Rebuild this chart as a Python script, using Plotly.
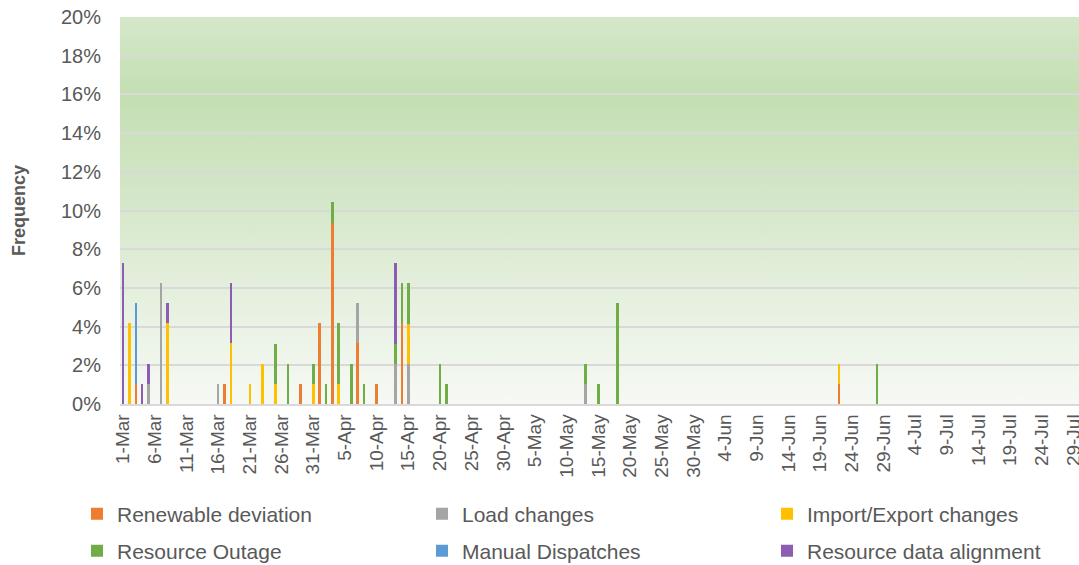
import base64

import pandas as pd
import plotly.graph_objects as go

# category axis: every day 1-Mar .. 31-Jul
days = pd.date_range("2021-03-01", "2021-07-31", freq="D")
categories = [f"{d.day}-{d.strftime('%b')}" for d in days]
tick_labels = categories[::5]

# frequency (%) by day, one pair of lists per cause
renewable_dates = ["3-Mar", "17-Mar", "29-Mar", "1-Apr", "3-Apr", "7-Apr", "10-Apr", "14-Apr", "22-Jun"]
renewable_vals = [1.04, 1.04, 1.04, 4.17, 9.38, 3.13, 1.04, 4.17, 1.04]

load_dates = ["5-Mar", "7-Mar", "16-Mar", "7-Apr", "13-Apr", "15-Apr", "13-May"]
load_vals = [1.04, 6.25, 1.04, 2.08, 2.08, 2.08, 1.04]

import_dates = ["2-Mar", "8-Mar", "18-Mar", "21-Mar", "23-Mar", "25-Mar", "31-Mar", "4-Apr", "15-Apr", "22-Jun"]
import_vals = [4.17, 4.17, 3.13, 1.04, 2.08, 1.04, 1.04, 1.04, 2.08, 1.04]

outage_dates = ["25-Mar", "27-Mar", "31-Mar", "2-Apr", "3-Apr", "4-Apr", "6-Apr", "8-Apr", "13-Apr",
                "14-Apr", "15-Apr", "20-Apr", "21-Apr", "13-May", "15-May", "18-May", "28-Jun", "30-Jul"]
outage_vals = [2.08, 2.08, 1.04, 1.04, 1.04, 3.13, 2.08, 1.04, 1.04,
               2.08, 2.08, 2.08, 1.04, 1.04, 1.04, 5.21, 2.08, 1.04]

manual_dates = ["3-Mar"]
manual_vals = [4.17]

resdata_dates = ["1-Mar", "4-Mar", "5-Mar", "8-Mar", "18-Mar", "13-Apr"]
resdata_vals = [7.29, 1.04, 1.04, 1.04, 3.13, 4.17]

SERIES = [
    ("Renewable deviation", renewable_dates, renewable_vals, "#ED7D31"),
    ("Load changes", load_dates, load_vals, "#A5A5A5"),
    ("Import/Export changes", import_dates, import_vals, "#FFC000"),
    ("Resource Outage", outage_dates, outage_vals, "#70AD47"),
    ("Manual Dispatches", manual_dates, manual_vals, "#5B9BD5"),
    ("Resource data alignment", resdata_dates, resdata_vals, "#8C5DB3"),
]

TEXT = "#595959"
FONT = "Liberation Sans, Arial, sans-serif"
W, H = 1079, 565
PL, PT, PB = 120, 17, 404   # plot area edges in px
PW, PH = W - PL, PB - PT

fig = go.Figure()
legends = {}
for i, (name, dates, vals, color) in enumerate(SERIES):
    key = "legend" if i == 0 else f"legend{i + 1}"
    fig.add_trace(go.Bar(x=dates, y=vals, name=name, marker_color=color,
                         marker_line_width=0, legend=key))
    # one legend per entry: 3 columns x 2 rows under the chart
    col, row = i % 3, i // 3
    lx = 77 + 345 * col
    ly = 514 + 37 * row
    legends[key] = dict(orientation="h",
                        x=(lx - PL) / PW, y=(PB - ly) / PH,
                        xanchor="left", yanchor="middle",
                        bgcolor="rgba(0,0,0,0)", font=dict(size=21))

# green gradient plot background
svg = ('<svg xmlns="http://www.w3.org/2000/svg" width="100" height="100" viewBox="0 0 100 100" '
       'preserveAspectRatio="none"><defs><linearGradient id="g" x1="0" y1="0" x2="0" y2="1">'
       '<stop offset="0" stop-color="#D4E8C9"/><stop offset="0.2" stop-color="#C4DFB3"/>'
       '<stop offset="0.45" stop-color="#D3E6C7"/><stop offset="0.75" stop-color="#E7F1E1"/>'
       '<stop offset="1" stop-color="#F6F9F4"/></linearGradient></defs>'
       '<rect width="100" height="100" fill="url(#g)"/></svg>')
bg_src = "data:image/svg+xml;base64," + base64.b64encode(svg.encode()).decode()

fig.update_layout(
    width=W, height=H,
    margin=dict(l=PL, r=0, t=PT, b=H - PB, autoexpand=False),
    paper_bgcolor="white", plot_bgcolor="rgba(0,0,0,0)",
    barmode="stack", bargap=0.6,
    font=dict(family=FONT, color=TEXT, size=19),
    images=[dict(source=bg_src, xref="paper", yref="paper", x=0, y=1, sizex=1, sizey=1,
                 sizing="stretch", xanchor="left", yanchor="top", layer="below")],
    showlegend=True,
    **legends,
)
fig.update_xaxes(type="category", categoryorder="array", categoryarray=categories,
                 range=[-0.5, 150.85], tickmode="array", tickvals=tick_labels, ticktext=tick_labels,
                 tickangle=-90, ticklabelstandoff=1, showgrid=False, automargin=False,
                 ticklabeloverflow="allow",
                 showline=True, linecolor="#D9D9D9", linewidth=1.5)
fig.update_yaxes(range=[0, 20], dtick=2, ticksuffix="%", ticklabelstandoff=18, automargin=False,
                 tickfont=dict(size=20), ticklabeloverflow="allow",
                 gridcolor="#D9D9D9", gridwidth=1.5, zeroline=False, showline=False,
                 title=dict(text="<b>Frequency</b>", standoff=30, font=dict(size=18)))

# drop the default 8px body margin so the figure fills the window exactly
fig.write_html("out.html", config={"displayModeBar": False},
               post_script="document.body.style.margin='0';")
